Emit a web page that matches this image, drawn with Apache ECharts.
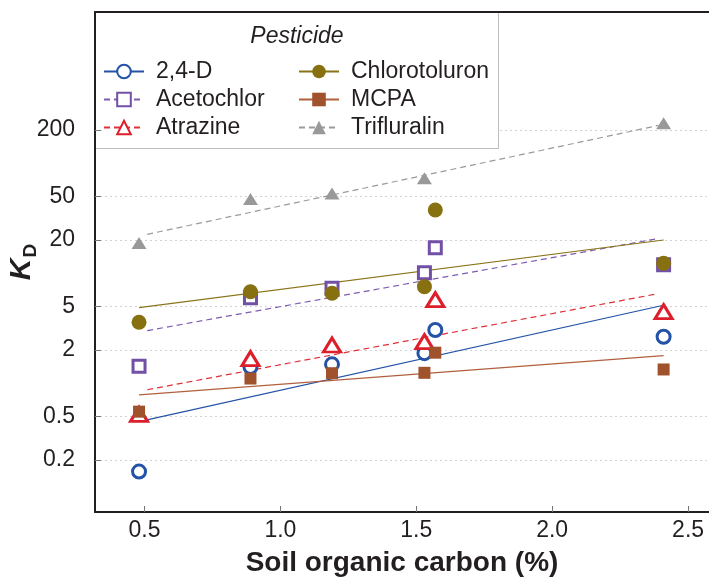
<!DOCTYPE html>
<html>
<head>
<meta charset="utf-8">
<script src="https://cdn.jsdelivr.net/npm/echarts@6/dist/echarts.min.js"></script>
<style>
  html, body { margin: 0; padding: 0; background: #fff; }
  #chart { width: 709px; height: 578px; }
</style>
</head>
<body>
<div id="chart"></div>
<script>
// Soil organic carbon (%) of the soils
const soilOC = [0.48, 0.89, 1.19, 1.53, 1.57, 2.41];

// Sorption coefficients K_D for each pesticide, one value per soil (null = not measured)
const kd24D          = [0.157, 1.40, 1.48, 1.87, 3.04, 2.64];
const kdAcetochlor   = [1.42, 5.97, 7.28, 10.1, 17.0, 11.9];
const kdAtrazine     = [0.52, 1.67, 2.22, 2.38, 5.73, 4.46];
const kdChlorotoluron= [3.57, 6.77, 6.55, 7.53, 37.5, 12.3];
const kdMCPA         = [0.55, 1.10, 1.23, 1.24, 1.89, 1.33];
const kdTrifluralin  = [18.8, 47.2, 53.0, 72.8, null, 230];

// Fitted log-linear trend lines: [OC start, OC end] and [K_D start, K_D end]
const fitOC24D = [0.48, 2.41],           fitKd24D = [0.446, 5.1];
const fitOCAcetochlor = [0.51, 2.39],    fitKdAcetochlor = [3.0, 20.6];
const fitOCAtrazine = [0.51, 2.39],      fitKdAtrazine = [0.87, 6.5];
const fitOCChlorotoluron = [0.48, 2.41], fitKdChlorotoluron = [4.85, 20.0];
const fitOCMCPA = [0.48, 2.41],          fitKdMCPA = [0.78, 1.78];
const fitOCTrifluralin = [0.51, 2.39],   fitKdTrifluralin = [22.5, 220];

// Axis tick labels
const xTicks = [0.5, 1.0, 1.5, 2.0, 2.5];
const yTicks = [0.2, 0.5, 2, 5, 20, 50, 200];

const FONT = '"Liberation Sans", Arial, Helvetica, sans-serif';
const TEXT = '#231f20';

// hollow: drawn as white-filled marks with a coloured outline
const pesticides = [
  { name: '2,4-D',         kd: kd24D,           fx: fitOC24D,           fy: fitKd24D,           color: '#2352a6', symbol: 'circle',   hollow: true,  size: 13,       dashed: false, lineColor: '#2352a6' },
  { name: 'Acetochlor',    kd: kdAcetochlor,    fx: fitOCAcetochlor,    fy: fitKdAcetochlor,    color: '#7150a6', symbol: 'rect',     hollow: true,  size: 12,       dashed: true,  lineColor: '#7d5cb0' },
  { name: 'Atrazine',      kd: kdAtrazine,      fx: fitOCAtrazine,      fy: fitKdAtrazine,      color: '#dc1f2a', symbol: 'triangle', hollow: true,  size: [17, 14], dashed: true,  lineColor: '#e0303a' },
  { name: 'Chlorotoluron', kd: kdChlorotoluron, fx: fitOCChlorotoluron, fy: fitKdChlorotoluron, color: '#86700f', symbol: 'circle',   hollow: false, size: 15,       dashed: false, lineColor: '#8a7418' },
  { name: 'MCPA',          kd: kdMCPA,          fx: fitOCMCPA,          fy: fitKdMCPA,          color: '#a0522d', symbol: 'rect',     hollow: false, size: 12,       dashed: false, lineColor: '#b0603c' },
  { name: 'Trifluralin',   kd: kdTrifluralin,   fx: fitOCTrifluralin,   fy: fitKdTrifluralin,   color: '#999999', symbol: 'triangle', hollow: false, size: [15, 12], dashed: true,  lineColor: '#9a9a9a' }
];

function markStyle(p, border) {
  return p.hollow
    ? { color: '#fff', borderColor: p.color, borderWidth: border, opacity: 1 }
    : { color: p.color, borderWidth: 0, opacity: 1 };
}

// Trend lines first, so that the legend icons take their line style and symbol
const lineSeries = pesticides.map(p => ({
  name: p.name,
  type: 'line',
  data: p.fx.map((x, i) => [x, p.fy[i]]),
  showSymbol: false,
  symbol: p.symbol,
  itemStyle: markStyle(p, 2.5),
  lineStyle: { color: p.lineColor, width: 1.2, type: p.dashed ? [6, 4] : 'solid' },
  z: 2,
  silent: true,
  animation: false
}));

const pointSeries = pesticides.map(p => ({
  name: p.name,
  type: 'scatter',
  data: soilOC.map((x, i) => [x, p.kd[i]]).filter(d => d[1] != null),
  symbol: p.symbol,
  symbolSize: p.size,
  itemStyle: markStyle(p, 3),
  z: 3,
  silent: true,
  animation: false
}));

const legendCommon = {
  orient: 'vertical',
  top: 60,
  padding: 0,
  itemWidth: 40,
  itemHeight: 17,
  itemGap: 5,
  selectedMode: false,
  textStyle: { fontFamily: FONT, fontSize: 23, color: TEXT, padding: [0, 0, 0, 7] },
  z: 5
};

const option = {
  animation: false,
  backgroundColor: '#fff',
  grid: { left: 95, right: 0, top: 12, bottom: 66, containLabel: false, outerBoundsMode: 'none' },
  xAxis: [
    {
      type: 'value',
      min: 0.318,
      max: 2.577,
      name: 'Soil organic carbon (%)',
      nameLocation: 'middle',
      nameGap: 37,
      nameMoveOverlap: false,
      nameTextStyle: { fontFamily: FONT, fontSize: 28, fontWeight: 'bold', color: TEXT },
      axisLine: { show: true, onZero: false, lineStyle: { color: TEXT, width: 2 } },
      axisTick: { show: true, inside: true, length: 6, customValues: xTicks, lineStyle: { color: '#777', width: 1 } },
      axisLabel: { show: true, customValues: xTicks, margin: 7, fontFamily: FONT, fontSize: 23, color: TEXT,
                   formatter: v => v.toFixed(1) },
      splitLine: { show: false }
    },
    {
      type: 'value',
      position: 'top',
      min: 0.318,
      max: 2.577,
      axisLine: { show: true, onZero: false, lineStyle: { color: TEXT, width: 2 } },
      axisTick: { show: false },
      axisLabel: { show: false },
      splitLine: { show: false }
    }
  ],
  yAxis: {
    type: 'log',
    logBase: 10,
    min: 0.0673,
    max: 2365,
    name: '{k|K}{d|D}',
    nameLocation: 'middle',
    nameRotate: 90,
    nameGap: 55,
    nameMoveOverlap: false,
    nameTextStyle: {
      rich: {
        k: { fontFamily: FONT, fontSize: 30, fontWeight: 'bold', fontStyle: 'italic', color: TEXT, lineHeight: 36 },
        d: { fontFamily: FONT, fontSize: 19, fontWeight: 'bold', color: TEXT, lineHeight: 16, padding: [20, 0, 0, 1], verticalAlign: 'bottom' }
      }
    },
    axisLine: { show: true, onZero: false, lineStyle: { color: TEXT, width: 2 } },
    axisTick: { show: true, inside: true, length: 6, customValues: yTicks, lineStyle: { color: '#777', width: 1 } },
    axisLabel: { show: true, customValues: yTicks, margin: 20, fontFamily: FONT, fontSize: 23, color: TEXT,
                 formatter: v => String(v) },
    splitLine: { show: true, lineStyle: { color: '#d2d2d2', width: 1, type: [2, 3] } },
    minorTick: { show: false },
    minorSplitLine: { show: false }
  },
  legend: [
    Object.assign({ left: 103, data: ['2,4-D', 'Acetochlor', 'Atrazine'] }, legendCommon),
    Object.assign({ left: 298, data: ['Chlorotoluron', 'MCPA', 'Trifluralin'] }, legendCommon)
  ],
  graphic: [
    // legend panel
    { type: 'rect', z: 1, silent: true, shape: { x: 102, y: 13, width: 396, height: 135 }, style: { fill: '#fff' } },
    { type: 'polyline', z: 1, silent: true, shape: { points: [[498.5, 13], [498.5, 148.5], [96, 148.5]] },
      style: { stroke: '#bdbdbd', lineWidth: 1, fill: null } },
    { type: 'text', z: 5, silent: true, x: 297, y: 37,
      style: { text: 'Pesticide', font: 'italic 23px ' + FONT, fill: TEXT, align: 'center', verticalAlign: 'middle' } }
  ],
  series: lineSeries.concat(pointSeries)
};

const chart = echarts.init(document.getElementById('chart'), null, { renderer: 'canvas' });
chart.setOption(option);
</script>
</body>
</html>
